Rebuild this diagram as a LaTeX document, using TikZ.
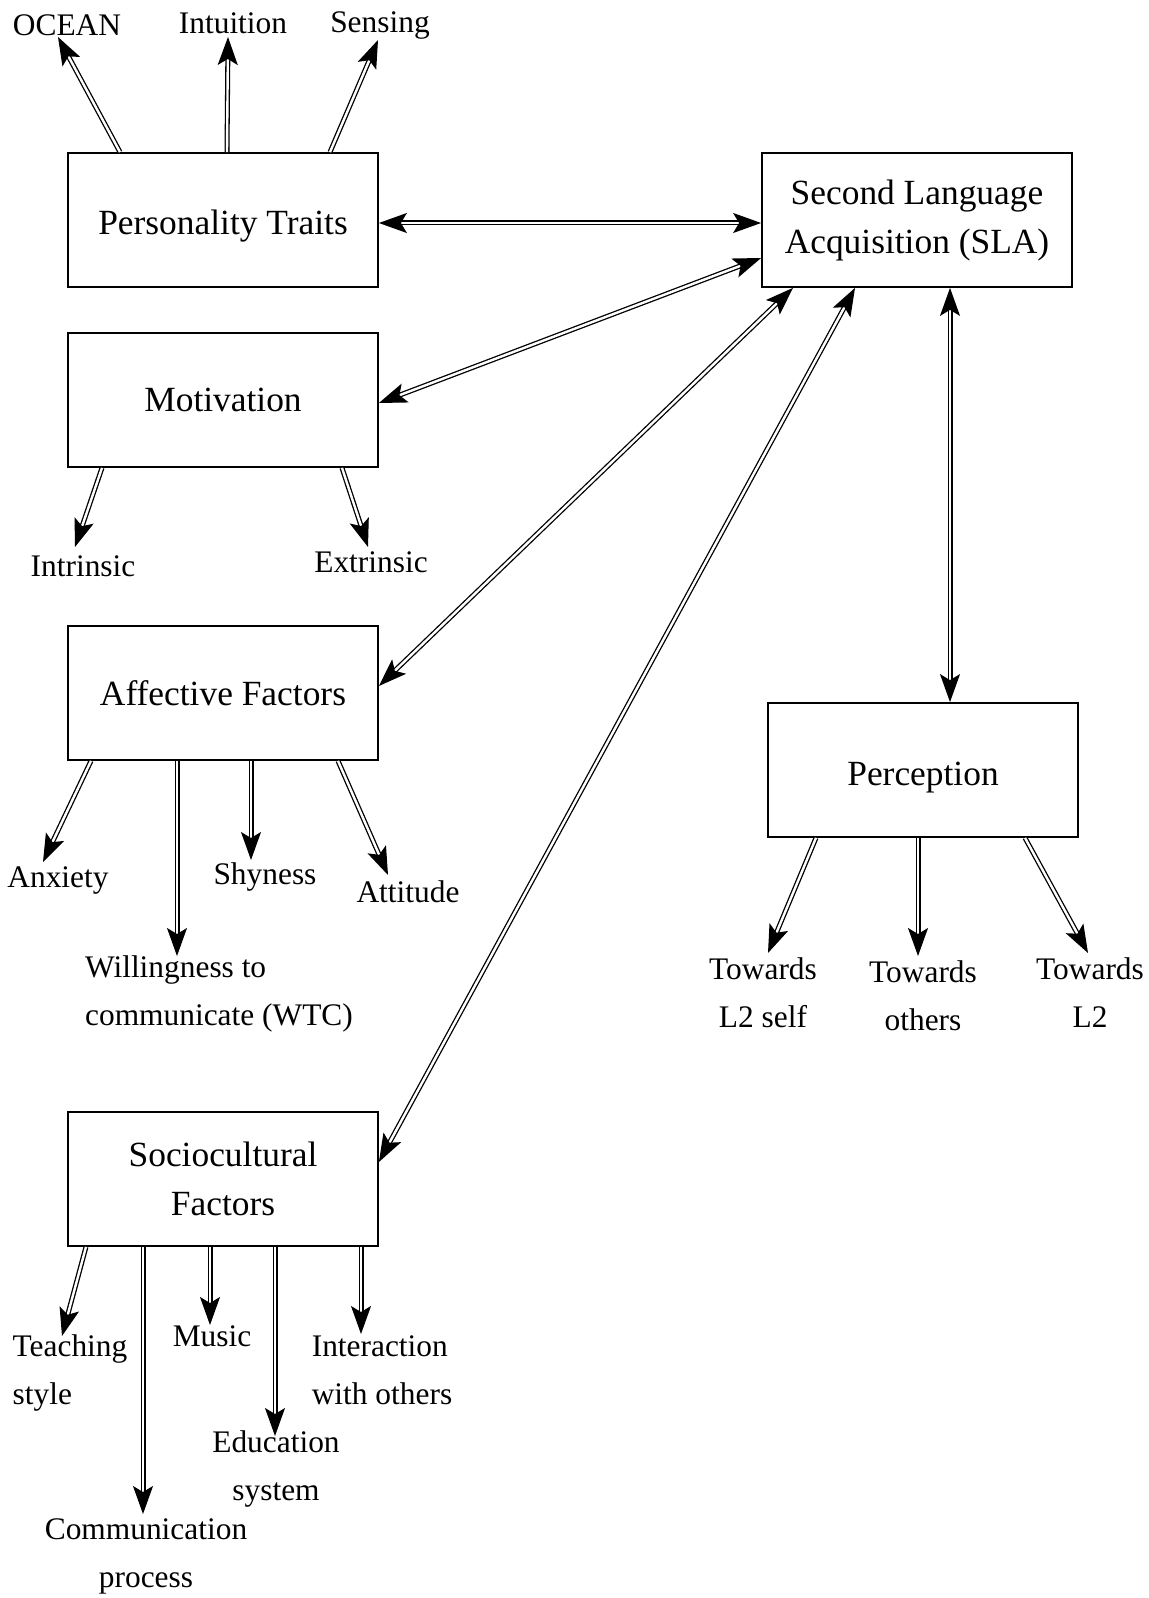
\documentclass[tikz,border=0pt]{standalone}
\usepackage{fontspec}
\setmainfont{Liberation Serif}
\usetikzlibrary{calc,arrows.meta,positioning}
\newcommand{\dropby}[2]{\raisebox{-#1}[\height][\depth]{#2}} % sets a text a little lower in its box
\tikzset{
box/.style={draw, line width=0.9pt, minimum width=155pt, minimum height=67pt, inner sep=0pt, align=center, font=\fontsize{17.7}{24.5}\selectfont}, % the framed boxes
lbl/.style={inner sep=0pt, align=center, font=\fontsize{15.7}{24}\selectfont}, % the free texts
}
\tikzset{
    dbl/.style={double, line width=0.65pt, double distance=1.2pt, -{Stealth[length=14pt,width=10pt,inset=3pt]}},
    dblboth/.style={dbl, {Stealth[length=14pt,width=10pt,inset=3pt]}-{Stealth[length=14pt,width=10pt,inset=3pt]}}
}

\begin{document}
\begin{tikzpicture}[x=0.5pt,y=0.5pt,yscale=-1,xscale=1]
		\useasboundingbox (0,0) rectangle (1149,1598);
		
		% Boxes
		\node[box] (pt) at (223,220) {\dropby{3pt}{Personality Traits}};
		\node[box] (sla) at (917,220) {Second Language\\Acquisition (SLA)};
		\node[box] (motiv) at (223,400) {Motivation};
		\node[box] (affect) at (223,693) {Affective Factors};
		\node[box] (perc) at (923,770) {\dropby{4pt}{Perception}};
		\node[box] (socio) at (223,1179) {Sociocultural\\Factors};
		
		% Text Node
		\node[lbl] (ocean) at (67,25) {OCEAN};
		\node[lbl] (intuition) at (233,23) {Intuition};
		\node[lbl] (sensing) at (380,26) {Sensing};
		\node[lbl] (intrinsic) at (83,566) {Intrinsic};
		\node[lbl] (extrinsic) at (371,562) {Extrinsic};
		\node[lbl] (anxiety) at (58,880) {Anxiety};
		\node[lbl, align=left] (wtc) at (219,994) {Willingness to\\communicate (WTC)};
		\node[lbl] (shyness) at (265,877) {Shyness};
		\node[lbl] (attitude) at (408,892) {Attitude};
		\node[lbl, align=left] (teaching) at (70,1373) {Teaching\\style};
		\node[lbl] (commun) at (146,1556) {Communication\\process};
		\node[lbl] (music) at (212,1336) {Music};
		\node[lbl] (educ) at (276,1469) {Education\\system};
		\node[lbl, align=left] (interact) at (382,1370) {Interaction\\with others};
		\node[lbl] (selfl2) at (763,993) {Towards\\L2 self};
		\node[lbl] (others) at (923,996) {Towards\\others};
		\node[lbl] (towl2) at (1090,993) {Towards\\L2};
		
		% Connection
		\draw[dblboth] ($(pt.east)+(0,3)$) -- ($(sla.west)+(0,3)$);
		\draw[dblboth] ($(motiv.east)+(0,3)$) -- ($(sla.west)+(0,38)$);
		\draw[dblboth] ($(affect.east)+(0,-7)$) -- ($(sla.south)+(-124,0)$);
		\draw[dblboth] ($(socio.east)+(0,-17)$) -- ($(sla.south)+(-62,0)$);
		\draw[dblboth] ($(sla.south)+(33,0)$) -- ($(perc.north)+(27,0)$);
		
		% Connection
		\draw[dbl] ($(pt.north)+(-103,0)$) -- ($(ocean)+(-9,12)$);
		\draw[dbl] ($(pt.north)+(4,0)$) -- ($(intuition)+(-5,14)$);
		\draw[dbl] ($(pt.north)+(107,0)$) -- ($(sensing)+(-2,14)$);
		
		\draw[dbl] ($(motiv.south)+(-121,0)$) -- ($(intrinsic)+(-8,-19)$);
		\draw[dbl] ($(motiv.south)+(119,0)$) -- ($(extrinsic)+(-3,-15)$);
		
		\draw[dbl] ($(affect.south)+(-132,0)$) -- ($(anxiety)+(-15,-18)$);
		\draw[dbl] ($(affect.south)+(-46,0)$) -- ($(wtc)+(-42,-38)$);
		\draw[dbl] ($(affect.south)+(28,0)$) -- ($(shyness)+(-14,-17)$);
		\draw[dbl] ($(affect.south)+(115,0)$) -- ($(attitude)+(-20,-17)$);
		
		\draw[dbl] ($(socio.south)+(-137,0)$) -- ($(teaching)+(-8,-37)$);
		\draw[dbl] ($(socio.south)+(-80,0)$) -- ($(commun)+(-3,-42)$);
		\draw[dbl] ($(socio.south)+(-13,0)$) -- ($(music)+(-2,-11)$);
		\draw[dbl] ($(socio.south)+(52,0)$) -- ($(educ)+(-1,-33)$);
		\draw[dbl] ($(socio.south)+(138,0)$) -- ($(interact)+(-21,-36)$);
		
		\draw[dbl] ($(perc.south)+(-107,0)$) -- ($(selfl2)+(5,-40)$);
		\draw[dbl] ($(perc.south)+(-5,0)$) -- ($(others)+(-5,-40)$);
		\draw[dbl] ($(perc.south)+(102,0)$) -- ($(towl2)+(-2,-40)$);
		
\end{tikzpicture}
\end{document}
